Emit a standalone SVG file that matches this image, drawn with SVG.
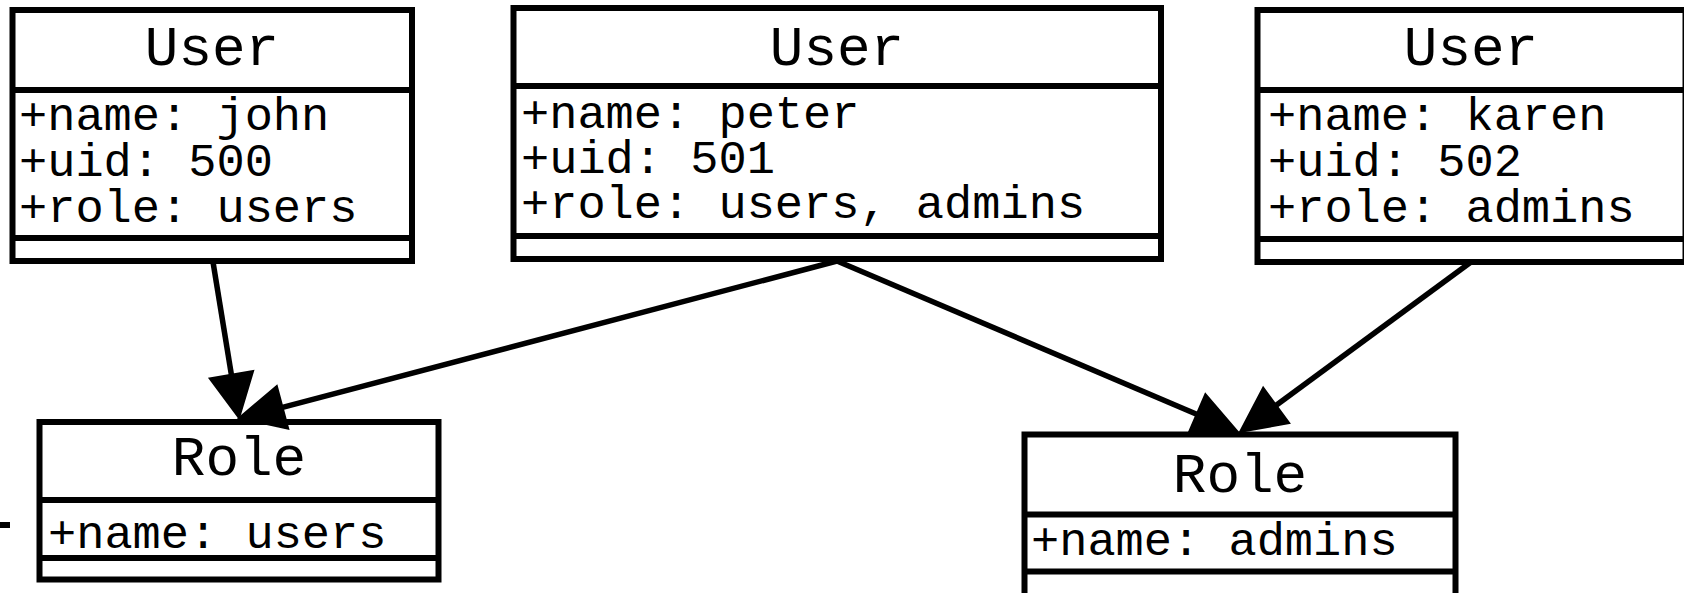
<svg xmlns="http://www.w3.org/2000/svg" width="1684" height="593" viewBox="0 0 1684 593">
<style>
.box{fill:#fff;stroke:#000;stroke-width:6}
.div{stroke:#000;stroke-width:6}
.hd{font-family:"Liberation Mono","Courier New",monospace;font-size:56px;text-anchor:middle;fill:#000}
.at{font-family:"Liberation Mono","Courier New",monospace;font-size:47px;fill:#000}
.edge{fill:none;stroke:#000;stroke-width:5.5}
.head{fill:#000;stroke:#000;stroke-width:2;stroke-linejoin:miter}
</style>
<rect x="0" y="0" width="1684" height="593" fill="#fff"/>
<g id="user-john">
<rect class="box" x="12.5" y="10" width="399.5" height="251"/>
<line class="div" x1="12.5" y1="90" x2="412" y2="90"/>
<line class="div" x1="12.5" y1="238" x2="412" y2="238"/>
<text class="hd" x="212" y="65">User</text>
<text class="at" x="19" y="130">+name: john</text>
<text class="at" x="19" y="176">+uid: 500</text>
<text class="at" x="19" y="222">+role: users</text>
</g>
<g id="user-peter">
<rect class="box" x="513.5" y="8" width="647.5" height="251"/>
<line class="div" x1="513.5" y1="86" x2="1161" y2="86"/>
<line class="div" x1="513.5" y1="236" x2="1161" y2="236"/>
<text class="hd" x="837" y="65">User</text>
<text class="at" x="521" y="128">+name: peter</text>
<text class="at" x="521" y="173">+uid: 501</text>
<text class="at" x="521" y="218">+role: users, admins</text>
</g>
<g id="user-karen">
<rect class="box" x="1257.5" y="10" width="428" height="252"/>
<line class="div" x1="1257.5" y1="90" x2="1686" y2="90"/>
<line class="div" x1="1257.5" y1="239" x2="1686" y2="239"/>
<text class="hd" x="1471" y="65">User</text>
<text class="at" x="1268" y="130">+name: karen</text>
<text class="at" x="1268" y="176">+uid: 502</text>
<text class="at" x="1268" y="222">+role: admins</text>
</g>
<g id="role-users">
<rect class="box" x="39.5" y="422" width="399" height="157.5"/>
<line class="div" x1="39.5" y1="500" x2="438.5" y2="500"/>
<line class="div" x1="39.5" y1="558" x2="438.5" y2="558"/>
<text class="hd" x="239" y="475">Role</text>
<text class="at" x="48" y="548">+name: users</text>
</g>
<g id="role-admins">
<rect class="box" x="1024.5" y="434.5" width="431" height="170"/>
<line class="div" x1="1024.5" y1="514.5" x2="1455.5" y2="514.5"/>
<line class="div" x1="1024.5" y1="571.5" x2="1455.5" y2="571.5"/>
<text class="hd" x="1240" y="492">Role</text>
<text class="at" x="1031" y="555">+name: admins</text>
</g>
<g id="fragment">
<rect x="0" y="522" width="10" height="6" fill="#000"/>
</g>
<g id="connectors">
<line class="edge" x1="213" y1="262" x2="231.4" y2="374.7"/>
<polygon class="head" points="239,418 209.7,378.4 253.1,371"/>
<line class="edge" x1="837" y1="261" x2="282.5" y2="407.4"/>
<polygon class="head" points="239,418 276.8,386.1 288.2,428.7"/>
<line class="edge" x1="837" y1="261" x2="1196.7" y2="414.2"/>
<polygon class="head" points="1238,432 1188,434.4 1205.4,394"/>
<line class="edge" x1="1471" y1="262" x2="1276.2" y2="405.3"/>
<polygon class="head" points="1240,432 1263.2,387.6 1289.2,423"/>
</g>
</svg>
